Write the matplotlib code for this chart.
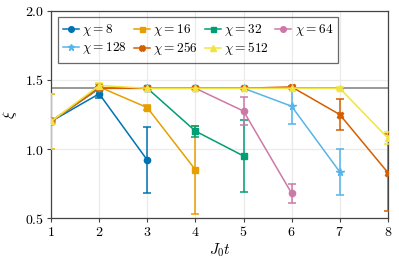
import matplotlib
matplotlib.use("Agg")
import matplotlib.pyplot as plt

plt.rcParams['mathtext.fontset'] = 'cm'
plt.rcParams['font.family'] = 'serif'
plt.rcParams['font.serif'] = ['DejaVu Serif']

# data: xi vs J0 t for each bond dimension chi
t = [1, 2, 3, 4, 5, 6, 7, 8]
chis = [8, 16, 32, 64, 128, 256, 512]

xi_8 = [1.20, 1.40, 0.92]
err_8 = [0.20, 0.03, 0.24]
xi_16 = [1.20, 1.45, 1.30, 0.85]
err_16 = [0.20, 0.02, 0.02, 0.32]
xi_32 = [1.20, 1.44, 1.44, 1.13, 0.95]
err_32 = [0.20, 0.01, 0.005, 0.04, 0.26]
xi_64 = [1.20, 1.44, 1.44, 1.44, 1.275, 0.68]
err_64 = [0.20, 0.01, 0.005, 0.005, 0.10, 0.07]
xi_128 = [1.20, 1.44, 1.44, 1.44, 1.44, 1.31, 0.835]
err_128 = [0.20, 0.01, 0.005, 0.005, 0.005, 0.13, 0.165]
xi_256 = [1.20, 1.44, 1.44, 1.44, 1.44, 1.45, 1.25, 0.83]
err_256 = [0.20, 0.01, 0.005, 0.005, 0.005, 0.01, 0.11, 0.28]
xi_512 = [1.20, 1.46, 1.44, 1.44, 1.44, 1.44, 1.44, 1.08]
err_512 = [0.20, 0.02, 0.005, 0.005, 0.005, 0.005, 0.01, 0.045]

xi_ref = 1.442

xticks = [1, 2, 3, 4, 5, 6, 7, 8]
yticks = [0.5, 1.0, 1.5, 2.0]
ytick_labels = ['$0.5$', '$1.0$', '$1.5$', '$2.0$']

series = [
    (xi_8, err_8, '#0072B2', 'o', 4.5),
    (xi_16, err_16, '#E69F00', 's', 4),
    (xi_32, err_32, '#009E73', 's', 4),
    (xi_64, err_64, '#CC79A7', 'o', 4.5),
    (xi_128, err_128, '#56B4E9', '*', 5.5),
    (xi_256, err_256, '#D55E00', 'X', 4.5),
    (xi_512, err_512, '#F0E442', '^', 4.5),
]

fig = plt.figure(figsize=(3.99, 2.66), dpi=100)
ax = fig.add_axes([0.128, 0.180, 0.844, 0.779])

ax.axhline(xi_ref, color='#888888', lw=1.2, zorder=1)

handles = {}
for chi, (vals, errs, col, mk, ms) in zip(chis, series):
    h = ax.errorbar(t[:len(vals)], vals, yerr=errs, color=col, marker=mk,
                    ms=ms, lw=1.1, elinewidth=1.1,
                    capsize=3, capthick=1.1, zorder=3)
    handles[chi] = h[0]

ax.set_xlim(1, 8)
ax.set_ylim(0.5, 2.0)
ax.set_xticks(xticks)
ax.set_xticklabels([f'${v}$' for v in xticks])
ax.set_yticks(yticks)
ax.set_yticklabels(ytick_labels)
ax.tick_params(labelsize=10, length=3, width=0.8, color='#444444', pad=2)
ax.grid(True, color='#ebebeb', lw=0.9)
ax.set_axisbelow(True)
for s in ax.spines.values():
    s.set_color('#444444')
    s.set_linewidth(0.9)

ax.set_xlabel('$J_0 t$', fontsize=11, labelpad=2)
ax.set_ylabel(r'$\xi$', fontsize=11, labelpad=4)

# matplotlib fills legend columns first, so reorder to get rows 8..64 / 128..512
order = [8, 128, 16, 256, 32, 512, 64]
leg = ax.legend([handles[c] for c in order], [rf'$\chi = {c}$' for c in order],
                ncol=4, loc='upper left', fontsize=9.6,
                frameon=True, fancybox=False, facecolor='none',
                edgecolor='#444444', handlelength=1.2, handletextpad=0.25,
                columnspacing=0.5, labelspacing=0.15, markerscale=0.9,
                borderpad=0.4, borderaxespad=0,
                bbox_to_anchor=(0.02, 0.97))
leg.get_frame().set_linewidth(0.9)

fig.savefig('out.png', dpi=100)
